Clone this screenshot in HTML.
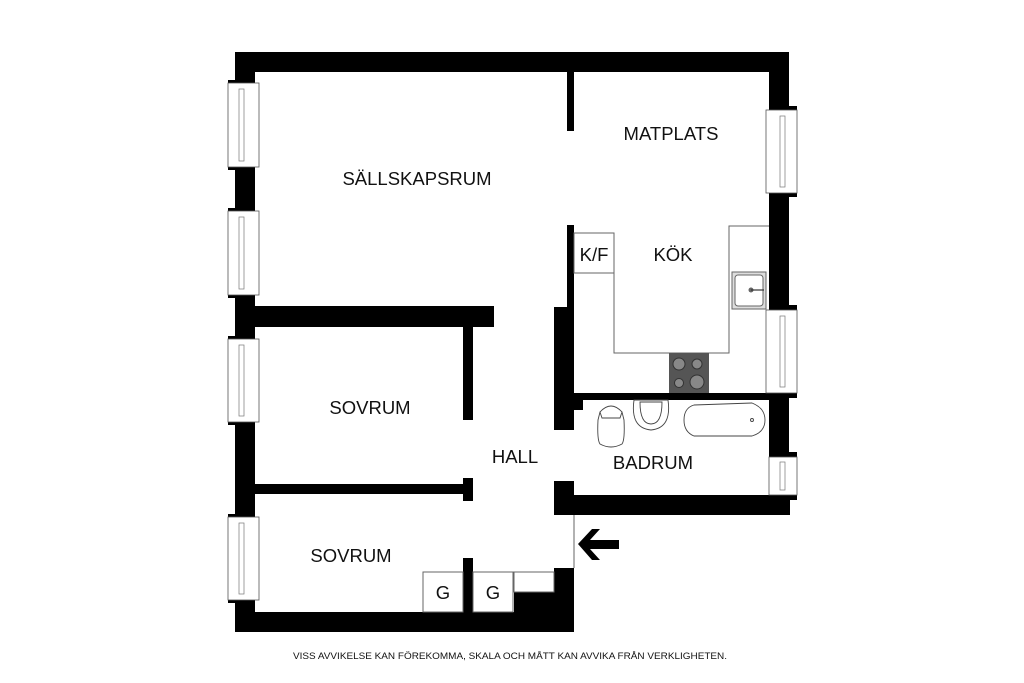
<!DOCTYPE html>
<html><head><meta charset="utf-8"><style>
html,body{margin:0;padding:0;background:#fff}
svg{display:block}
text{font-family:"Liberation Sans",Arial,sans-serif;fill:#111}
</style></head><body>
<svg width="1024" height="683" viewBox="0 0 1024 683" xmlns="http://www.w3.org/2000/svg">
<g fill="#000">
<rect x="235" y="52" width="554" height="20"/>
<rect x="235" y="52" width="20" height="580"/>
<rect x="769" y="52" width="20" height="341"/>
<rect x="235" y="612" width="339" height="20"/>
<rect x="567" y="72" width="7" height="59"/>
<rect x="567" y="225" width="7" height="90"/>
<rect x="554" y="307" width="20" height="103"/>
<rect x="554" y="393" width="20" height="37"/>
<rect x="574" y="400" width="9" height="10"/>
<rect x="574" y="393" width="215" height="7"/>
<rect x="769" y="393" width="20" height="64"/>
<rect x="789" y="393" width="8" height="5"/>
<rect x="789" y="452" width="8" height="5"/>
<rect x="554" y="495" width="236" height="20"/>
<rect x="789" y="495" width="8" height="5"/>
<rect x="554" y="481" width="20" height="34"/>
<rect x="554" y="568" width="20" height="64"/>
<rect x="514" y="592" width="40" height="20"/>
<rect x="255" y="306" width="239" height="21"/>
<rect x="463" y="327" width="10" height="93"/>
<rect x="255" y="484" width="208" height="10"/>
<rect x="463" y="478" width="10" height="23"/>
<rect x="463" y="558" width="10" height="54"/>
<rect x="228" y="80" width="8" height="6"/><rect x="228" y="164" width="8" height="6"/>
<rect x="228" y="208" width="8" height="6"/><rect x="228" y="292" width="8" height="6"/>
<rect x="228" y="336" width="8" height="6"/><rect x="228" y="419" width="8" height="6"/>
<rect x="228" y="514" width="8" height="6"/><rect x="228" y="597" width="8" height="6"/>
<rect x="789" y="106" width="8" height="6"/><rect x="789" y="191" width="8" height="6"/>
<rect x="789" y="305" width="8" height="6"/>
</g>
<g fill="#fff" stroke="#555" stroke-width="0.8">
<rect x="228" y="83" width="31" height="84"/><rect x="228" y="211" width="31" height="84"/>
<rect x="228" y="339" width="31" height="83"/><rect x="228" y="517" width="31" height="83"/>
<rect x="766" y="110" width="31" height="83"/><rect x="766" y="310" width="31" height="83"/>
<rect x="769" y="457" width="28" height="38"/>
</g>
<g fill="none" stroke="#777" stroke-width="0.7">
<rect x="239" y="89" width="5" height="72"/><rect x="239" y="217" width="5" height="72"/>
<rect x="239" y="345" width="5" height="71"/><rect x="239" y="523" width="5" height="71"/>
<rect x="780" y="116" width="5" height="71"/><rect x="780" y="316" width="5" height="71"/>
<rect x="780" y="462" width="5" height="28"/>
</g>
<g fill="none" stroke="#666" stroke-width="1">
<rect x="574" y="233" width="40" height="40"/>
<polyline points="574,273 614,273 614,353 729,353 729,226 769,226"/>
<rect x="732" y="272" width="34" height="37" fill="#ddd"/>
<rect x="735" y="275" width="28" height="31" rx="3" fill="#fff"/>
<rect x="423" y="572" width="40" height="40"/>
<rect x="473" y="572" width="40" height="40"/>
<rect x="514" y="572" width="40" height="20"/>
<line x1="574" y1="515" x2="574" y2="568"/>
</g>
<circle cx="751" cy="290" r="2.5" fill="#666"/><line x1="751" y1="290" x2="764" y2="290" stroke="#333" stroke-width="1.2"/>
<rect x="669" y="353" width="40" height="40" fill="#555"/>
<g fill="#888" stroke="#333" stroke-width="1">
<circle cx="679" cy="364" r="6"/><circle cx="697" cy="364" r="5"/>
<circle cx="679" cy="383" r="4.5"/><circle cx="697" cy="382" r="7"/>
</g>
<g fill="#fff" stroke="#444" stroke-width="0.9">
<path d="M600,444 Q597,440 598,420 L600,412 Q611,404 622,412 L624,420 Q625,440 622,444 Q611,450 600,444Z"/>
<path d="M600,412 Q611,400 622,412 L620,418 L602,418Z"/>
<path d="M634,400 L668,400 Q672,428 651,430 Q630,428 634,400Z"/>
<path d="M640,402 L662,402 Q662,424 651,424 Q640,424 640,402Z"/>
<path d="M694,405 L752,403 Q765,408 765,420 Q765,432 752,436 L694,436 Q684,432 684,420 Q684,408 694,405Z"/>
<circle cx="752" cy="420" r="1.5"/>
</g>
<path d="M578,544 L592,529 L600,529 L590,540 L619,540 L619,549 L590,549 L600,560 L592,560Z" fill="#000"/>
<g font-size="18.5" text-anchor="middle">
<text x="417" y="185">SÄLLSKAPSRUM</text>
<text x="671" y="140">MATPLATS</text>
<text x="594" y="261">K/F</text>
<text x="673" y="261">KÖK</text>
<text x="370" y="414">SOVRUM</text>
<text x="515" y="463">HALL</text>
<text x="653" y="469">BADRUM</text>
<text x="351" y="562">SOVRUM</text>
<text x="443" y="599">G</text>
<text x="493" y="599">G</text>
</g>
<text x="510" y="659" font-size="9.4" text-anchor="middle" textLength="434" lengthAdjust="spacingAndGlyphs">VISS AVVIKELSE KAN FÖREKOMMA, SKALA OCH MÅTT KAN AVVIKA FRÅN VERKLIGHETEN.</text>
</svg>
</body></html>
